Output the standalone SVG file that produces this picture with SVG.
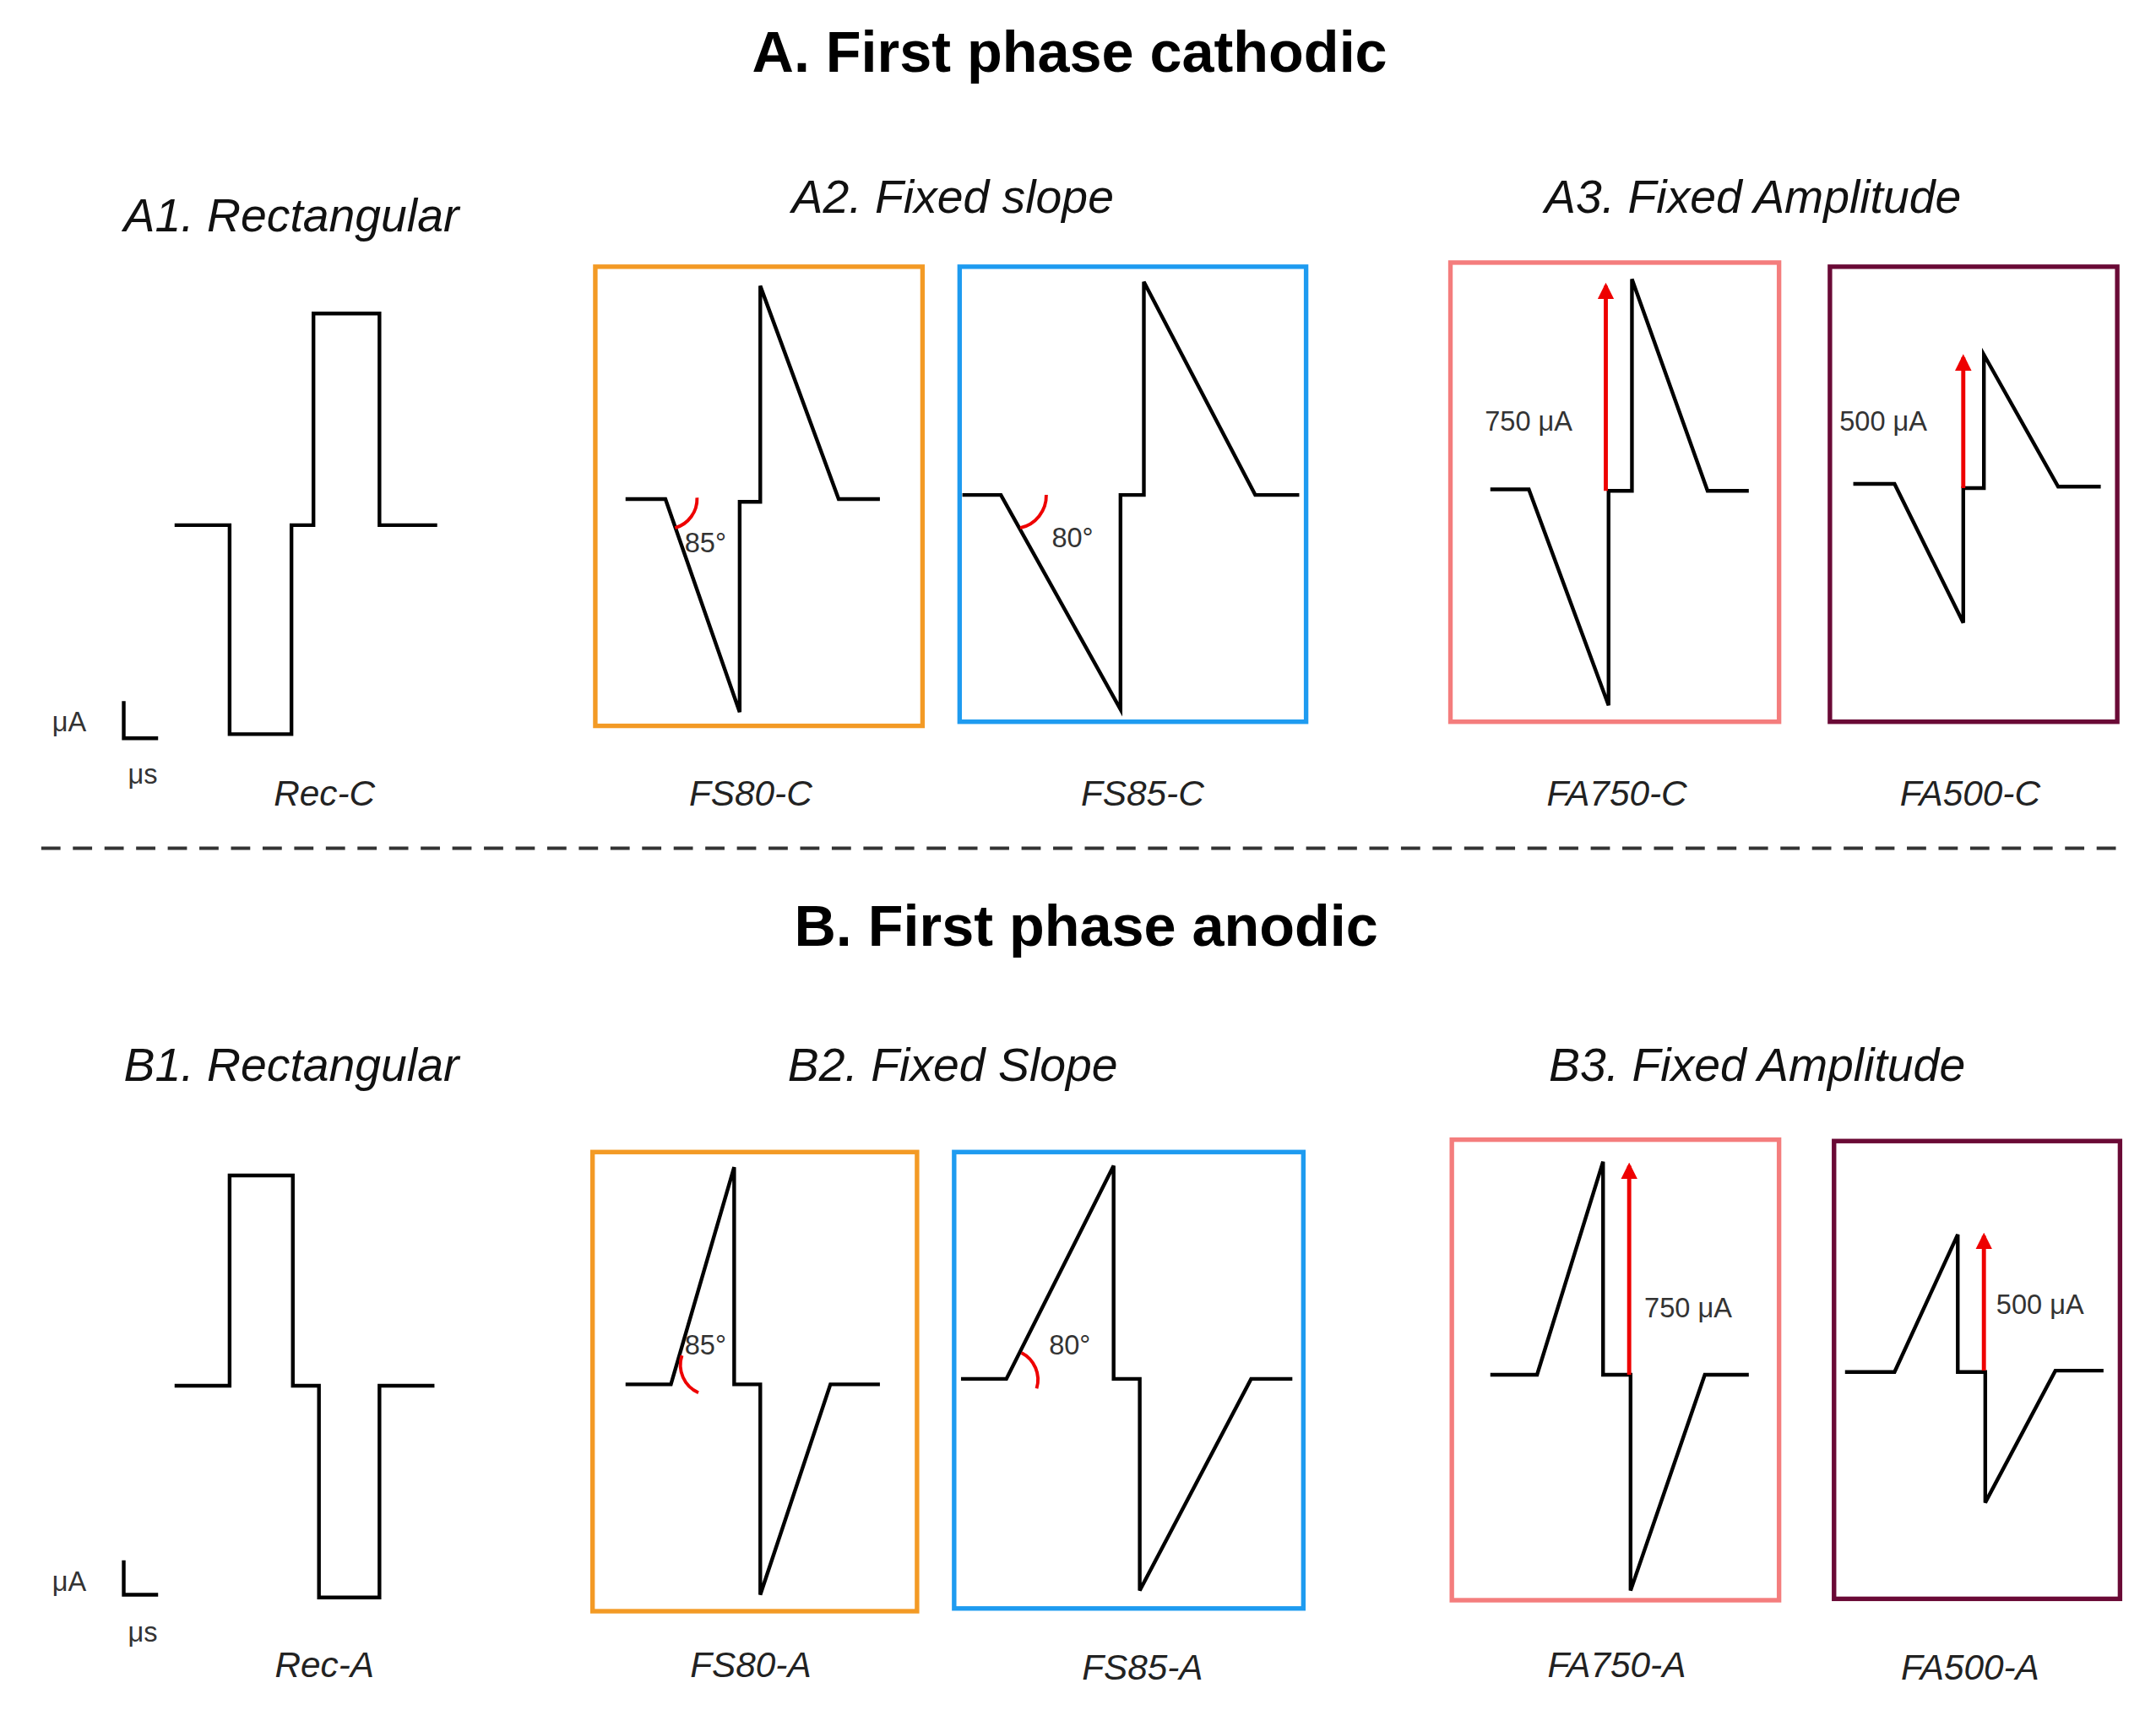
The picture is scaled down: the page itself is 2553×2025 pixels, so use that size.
<svg xmlns="http://www.w3.org/2000/svg" width="2553" height="2025" viewBox="0 0 2553 2025">
<defs>
<style>
.t{font-family:"Liberation Sans",Arial,sans-serif;font-weight:bold;font-size:42px;fill:#000;text-anchor:middle}
.h{font-family:"Liberation Sans",Arial,sans-serif;font-style:italic;font-size:34px;fill:#111}
.l{font-family:"Liberation Sans",Arial,sans-serif;font-style:italic;font-size:26px;fill:#222;text-anchor:middle}
.s{font-family:"Liberation Sans",Arial,sans-serif;font-size:20px;fill:#333}
.w{fill:none;stroke:#000;stroke-width:2.7;stroke-linejoin:miter}
.b{fill:none;stroke-width:3.3}
.arc{fill:none;stroke:#e00;stroke-width:2.4}
.ar{stroke:#e00;stroke-width:3;marker-end:url(#ah)}
</style>
<marker id="ah" viewBox="0 0 10 10" refX="8" refY="5" markerWidth="4" markerHeight="4" orient="auto"><path d="M0,0L10,5L0,10z" fill="#e00"/></marker>
</defs>
<rect width="2553" height="2025" fill="#fff"/>
<g transform="scale(1.628)">
<text class="t" x="778" y="52">A. First phase cathodic</text>
<text class="h" x="90" y="168">A1. Rectangular</text>
<text class="h" x="693" y="155" text-anchor="middle">A2. Fixed slope</text>
<text class="h" x="1275" y="155" text-anchor="middle">A3. Fixed Amplitude</text>
<g id="rec-c">
<path class="w" d="M127,382H167V534H212V382H228V228H276V382H318"/>
<path class="w" d="M90,510V537H115"/>
<text class="s" x="38" y="532">μA</text><text class="s" x="93" y="570" font-size="17">μs</text>
<text class="l" x="236" y="586">Rec-C</text>
</g>
<g id="fs80-c">
<rect class="b" stroke="#f39a25" x="433" y="194" width="238" height="334"/>
<path class="w" d="M455,363H484L538,518V365H553V208L610,363H640"/>
<path class="arc" d="M507,362A22,22 0 0 1 491,384"/>
<text class="s" x="498" y="402">85°</text>
<text class="l" x="546" y="586">FS80-C</text>
</g>
<g id="fs85-c">
<rect class="b" stroke="#1e9bf0" x="698" y="194" width="252" height="331"/>
<path class="w" d="M700,360H728L815,516V360H832V205L913,360H945"/>
<path class="arc" d="M761,360A24,24 0 0 1 742,384"/>
<text class="s" x="765" y="398">80°</text>
<text class="l" x="831" y="586">FS85-C</text>
</g>
<g id="fa750-c">
<rect class="b" stroke="#f47d7d" x="1055" y="191" width="239" height="334"/>
<path class="w" d="M1084,356H1112L1170,513V357H1187V203L1242,357H1272"/>
<line class="ar" x1="1168" y1="357" x2="1168" y2="208"/>
<text class="s" x="1080" y="313">750 μA</text>
<text class="l" x="1176" y="586">FA750-C</text>
</g>
<g id="fa500-c">
<rect class="b" stroke="#6a0a36" x="1331" y="194" width="209" height="331"/>
<path class="w" d="M1348,352H1378L1428,453V355H1443V258L1497,354H1528"/>
<line class="ar" x1="1428" y1="355" x2="1428" y2="260"/>
<text class="s" x="1338" y="313">500 μA</text>
<text class="l" x="1433" y="586">FA500-C</text>
</g>
<g id="divider"><line x1="30" y1="617" x2="1545" y2="617" stroke="#333" stroke-width="2.4" stroke-dasharray="14,9"/></g>
<text class="t" x="790" y="688">B. First phase anodic</text>
<text class="h" x="90" y="786">B1. Rectangular</text>
<text class="h" x="693" y="786" text-anchor="middle">B2. Fixed Slope</text>
<text class="h" x="1278" y="786" text-anchor="middle">B3. Fixed Amplitude</text>
<g id="rec-a">
<path class="w" d="M127,1008H167V855H213V1008H232V1162H276V1008H316"/>
<path class="w" d="M90,1135V1160H115"/>
<text class="s" x="38" y="1157">μA</text><text class="s" x="93" y="1194" font-size="17">μs</text>
<text class="l" x="236" y="1220">Rec-A</text>
</g>
<g id="fs80-a">
<rect class="b" stroke="#f39a25" x="431" y="838" width="236" height="334"/>
<path class="w" d="M455,1007H488L534,849V1007H553V1160L604,1007H640"/>
<path class="arc" d="M496,986A22,22 0 0 0 508,1013"/>
<text class="s" x="498" y="985">85°</text>
<text class="l" x="546" y="1220">FS80-A</text>
</g>
<g id="fs85-a">
<rect class="b" stroke="#1e9bf0" x="694" y="838" width="254" height="332"/>
<path class="w" d="M699,1003H732L810,848V1003H829V1157L910,1003H940"/>
<path class="arc" d="M743,984A22,22 0 0 1 754,1010"/>
<text class="s" x="763" y="985">80°</text>
<text class="l" x="831" y="1222">FS85-A</text>
</g>
<g id="fa750-a">
<rect class="b" stroke="#f47d7d" x="1056" y="829" width="238" height="335"/>
<path class="w" d="M1084,1000H1118L1166,845V1000H1186V1157L1240,1000H1272"/>
<line class="ar" x1="1185" y1="1000" x2="1185" y2="848"/>
<text class="s" x="1196" y="958">750 μA</text>
<text class="l" x="1176" y="1220">FA750-A</text>
</g>
<g id="fa500-a">
<rect class="b" stroke="#6a0a36" x="1334" y="830" width="208" height="333"/>
<path class="w" d="M1342,998H1378L1424,898V998H1444V1093L1495,997H1530"/>
<line class="ar" x1="1443" y1="997" x2="1443" y2="899"/>
<text class="s" x="1452" y="956">500 μA</text>
<text class="l" x="1433" y="1222">FA500-A</text>
</g>
</g>
</svg>
